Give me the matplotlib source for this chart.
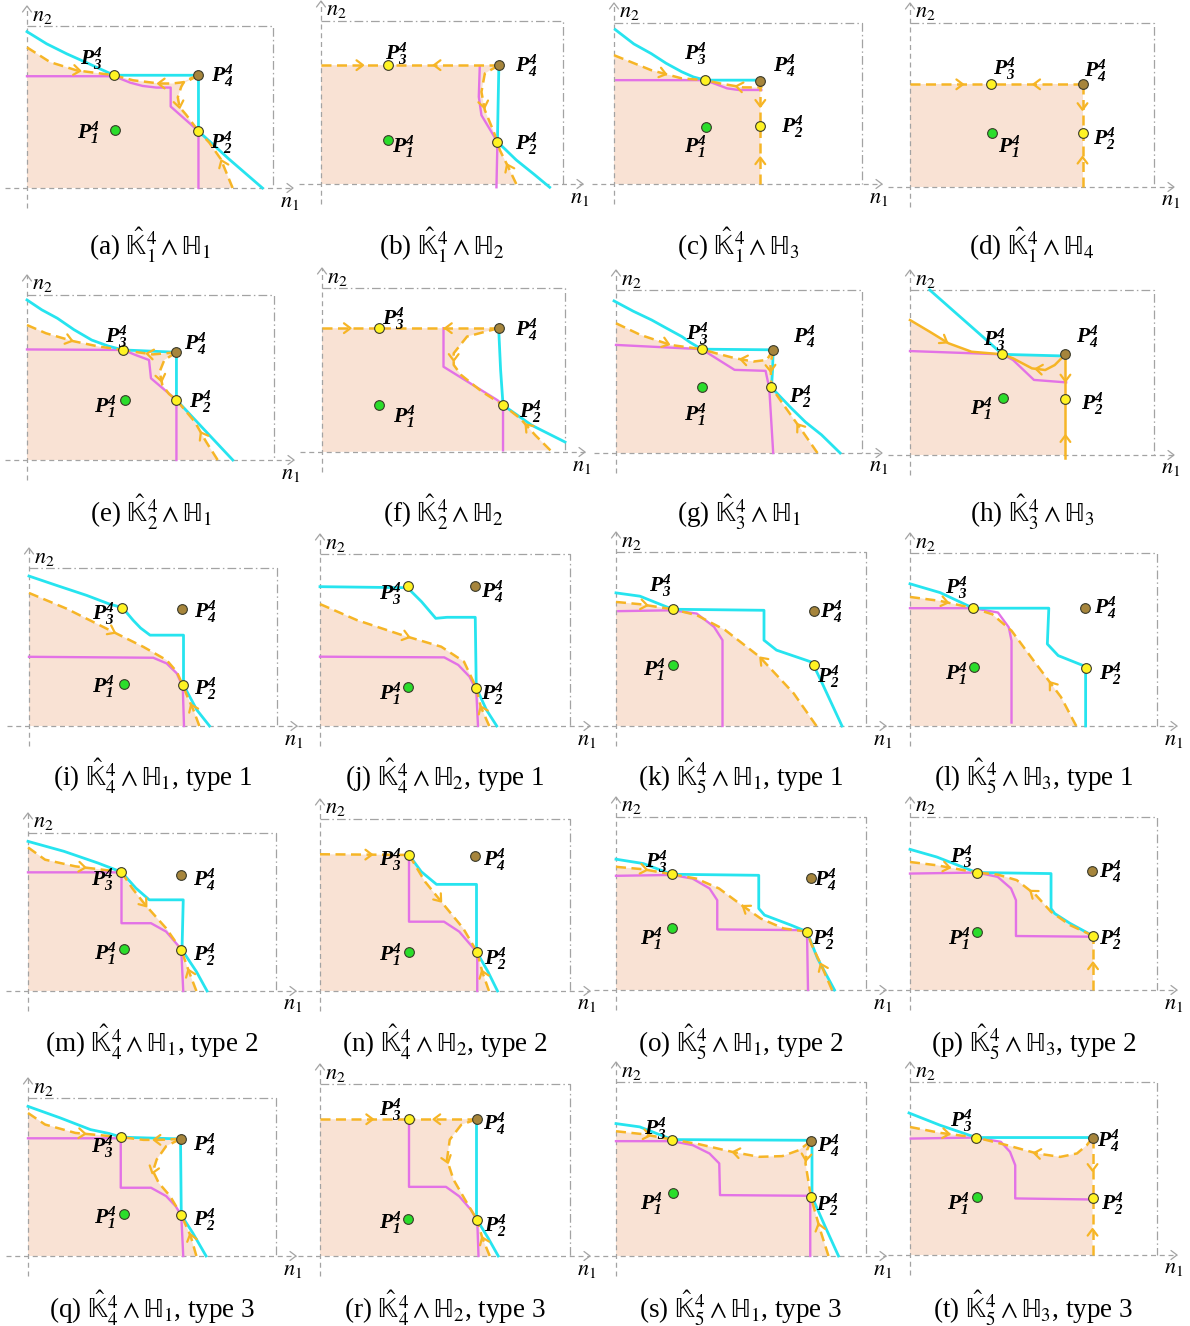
import numpy as np
import matplotlib
matplotlib.use('Agg')
import matplotlib.pyplot as plt

plt.rcParams['font.family'] = ['Liberation Serif', 'DejaVu Serif']
plt.rcParams['mathtext.fontset'] = 'custom'
plt.rcParams['mathtext.rm'] = 'Liberation Serif'
plt.rcParams['mathtext.it'] = 'Liberation Serif:italic'
plt.rcParams['mathtext.bf'] = 'Liberation Serif:italic:bold'

# ---------------- captions ----------------
CAP_LETTERS = list('abcdefghijklmnopqrst')
CAP_K = [1, 1, 1, 1, 2, 2, 3, 3, 4, 4, 5, 5, 4, 4, 5, 5, 4, 4, 5, 5]
CAP_H = [1, 2, 3, 4, 1, 2, 1, 3, 1, 2, 1, 3, 1, 2, 1, 3, 1, 2, 1, 3]
CAP_TYPE = [None] * 8 + [1] * 4 + [2] * 4 + [3] * 4

# ---------------- panel data (box coordinates, percent of box) ----------------
# points order: P1, P2, P3, P4 ; labels same order
a_pts = [(35.7, 35.7), (69.7, 35.1), (35.4, 69.6), (69.7, 69.6)]
a_lab = [(24.9, 34.1), (78.8, 28), (26.3, 79.7), (79.5, 69.6)]
a_cyan = [(0, 96.5), (8, 89), (16.2, 82.8), (24, 77.5), (29.6, 73.6), (35.4, 69.6), (69.7, 69.6), (69.7, 35.1), (82, 18), (95.7, 0)]
a_mag = [(0, 69), (35.4, 69), (42, 65), (47, 63), (52.6, 62), (58.4, 62), (58.4, 50.3), (69.7, 35.1), (69.7, 0)]
a_flows = [[(0, 86.8), (9.4, 77.7), (20.2, 72.6), (35.4, 69.6)],
           [(69.7, 69.6), (64.7, 65.5), (59, 64.5), (53.9, 64.5), (43.1, 66.5), (35.4, 69.6)],
           [(69.7, 69.6), (64, 66), (62.7, 62.5), (61.3, 56), (62, 50), (64.7, 45.2), (69.7, 35.1)],
           [(83.6, 0), (78.8, 17.8), (74.1, 28), (69.7, 35.1)]]
a_arr = [0.6, 0.45, 0.55, 0.4]

b_pts = [(27.5, 26.9), (72.9, 25.9), (27.8, 72.9), (73.5, 72.9)]
b_lab = [(34, 22.9), (84.9, 24.9), (31.2, 80), (84.9, 72.9)]
b_cyan = [(73.5, 72.9), (73.2, 50), (72.9, 25.9), (80.7, 14.7), (88, 6), (94.5, -2)]
b_mag = [(65.6, 71.8), (65.2, 53.5), (66.3, 42.2), (70.4, 32), (72.9, 25.9), (72.5, -2)]
b_flows = [[(0, 72.9), (27.8, 72.9)],
           [(73.5, 72.9), (27.8, 72.9)],
           [(73.5, 72.9), (67.7, 67.8), (66.3, 56.5), (67.7, 45.3), (71.1, 33.1), (72.9, 25.9)],
           [(80.7, 0), (77.3, 10.6), (73.9, 20.8), (72.9, 25.9)]]
b_arr = [0.58, 0.56, 0.55, 0.4]

c_pts = [(37.1, 35.7), (59, 36.3), (36.8, 64.5), (59, 63.7)]
c_lab = [(32.6, 23.3), (71.7, 35.7), (32.6, 81), (68.6, 73.8)]
c_cyan = [(0.5, 95.9), (8, 87), (15, 81), (21, 75), (27.3, 69.7), (32, 66.5), (36.8, 64.5), (57.9, 64.5)]
c_mag = [(0.9, 64.5), (36.8, 64.5), (42, 61.5), (45.6, 59.4), (50.2, 58.4), (59.4, 58.4)]
c_flows = [[(0, 80), (15, 70.7), (27.3, 65.6), (36.8, 64.5)],
           [(59, 63.7), (59.4, 60), (52, 60), (42.6, 62.5), (36.8, 64.5)],
           [(59, 63.7), (59, 36.3)],
           [(59, 0), (59, 36.3)]]
c_arr = [0.55, 0.45, 0.5, 0.4]

d_pts = [(33.8, 32.9), (70.7, 32.9), (33, 62.6), (70.7, 62.6)]
d_lab = [(40.8, 24.4), (79.8, 29.5), (38.5, 72), (75.9, 71)]
d_cyan = []
d_mag = []
d_flows = [[(0, 62.6), (33, 62.6)],
           [(70.7, 62.6), (33, 62.6)],
           [(70.7, 62.6), (70.7, 32.9)],
           [(70.7, 0), (70.7, 32.9)]]
d_arr = [0.62, 0.5, 0.46, 0.5]

e_pts = [(39.8, 36.4), (60.5, 36.4), (39, 66.7), (60.5, 65.3)]
e_lab = [(31.6, 32.3), (70.2, 35.4), (36.3, 74.7), (67.9, 70.7)]
e_cyan = [(0, 97), (6, 91), (12.3, 85.9), (19, 79), (26.2, 72.7), (33, 69), (39, 66.7), (60.5, 65.3), (60.5, 36.4), (72, 18), (83.3, 0)]
e_mag = [(0, 67), (39, 66.7), (44, 63.6), (49.4, 60.6), (50.2, 49.5), (60.5, 36.4), (60.5, 0)]
e_flows = [[(0, 81.8), (7.7, 76.8), (18.5, 72.1), (29.3, 68.7), (39, 66.7)],
           [(60.5, 65.3), (55, 64.5), (50.9, 64), (44.8, 65.3), (39, 66.7)],
           [(60.5, 65.3), (55.6, 60.6), (53.7, 53.5), (54.8, 45.5), (57.5, 40), (60.5, 36.4)],
           [(77.2, 0), (72.5, 11.1), (67.9, 23.2), (60.5, 36.4)]]
e_arr = [0.45, 0.5, 0.55, 0.4]

f_pts = [(23.3, 28.6), (74.5, 28.6), (23.3, 75.5), (72.7, 75.5)]
f_lab = [(33.9, 21.4), (85.5, 24.5), (29.4, 81.6), (83.9, 74.5)]
f_cyan = [(72.7, 75.5), (73.5, 50), (74.5, 28.6), (86.3, 16.3), (100, 6.1)]
f_mag = [(50, 75.5), (50, 52), (72.2, 31.6), (74.5, 28.6), (74.5, 1)]
f_flows = [[(0, 75.5), (23.3, 75.5)],
           [(72.7, 75.5), (23.3, 75.5)],
           [(72.7, 75.5), (59.7, 70.4), (54.2, 60.2), (54.2, 53.1), (57.3, 46.9), (65.9, 36.7), (74.5, 28.6)],
           [(94, 1), (87.8, 10.2), (81.6, 20.4), (74.5, 28.6)]]
f_arr = [0.45, 0.42, 0.45, 0.5]

g_pts = [(34.8, 40.2), (63.2, 40.2), (34.8, 63.7), (63.9, 63.3)]
g_lab = [(32.2, 23.5), (75, 34.7), (32.9, 73.5), (76.6, 71.4)]
g_cyan = [(-0.8, 93.3), (7, 87), (14.5, 81.6), (20, 77), (26.8, 71.4), (30, 68), (34.8, 63.7), (63.9, 63.3), (63.6, 50), (63.2, 40.2), (71.2, 27.6), (77, 19), (83.5, 11.2), (91.1, 0)]
g_mag = [(0, 66.3), (34.8, 63.7), (40.6, 58.2), (48.2, 51), (60.8, 50.4), (62.3, 39.8), (63.9, 0)]
g_flows = [[(0, 79.6), (10, 72.4), (22.2, 66.3), (34.8, 63.7)],
           [(63.9, 63.3), (61.3, 57.1), (55.9, 56.1), (48.2, 58.2), (40.6, 61.2), (34.8, 63.7)],
           [(63.9, 63.3), (62.8, 54), (63.2, 40.2)],
           [(81.9, 0), (75.8, 13.3), (68.1, 29.6), (63.2, 40.2)]]
g_arr = [0.6, 0.45, 0.5, 0.4]

h_pts = [(38.2, 34.7), (63.7, 33.7), (37.9, 61), (63.7, 61)]
h_lab = [(29, 28.3), (74.8, 31.3), (34.5, 69.7), (72.5, 71.7)]
h_cyan = [(8.1, 100), (18.9, 85.9), (29.8, 71.7), (37.9, 61), (63.7, 60)]
h_mag = [(0, 63), (37.9, 61), (42.2, 57.6), (50.8, 45.5), (64, 44)]
h_flows = [[(0, 81.8), (8.1, 74.7), (15.8, 67.7), (25.2, 62.6), (37.9, 61)],
           [(63.7, 61), (59.3, 54.5), (55.4, 51.5), (50, 52.5), (42.2, 58.6), (37.9, 61)],
           [(63.7, 61), (63.7, 33.7)],
           [(63.7, -1.6), (63.7, 33.7)]]
h_arr = [0.4, 0.45, 0.53, 0.33]

i_pts = [(38.3, 26.3), (62, 25.9), (37.7, 74.9), (61.6, 73.9)]
i_lab = [(29.9, 24.8), (71, 23.8), (29.9, 71.2), (71, 72.2)]
i_cyan = [(0, 94.9), (11.1, 89), (23.2, 82.7), (32.6, 77.1), (37.7, 74.9), (42, 66.9), (45, 62), (48.8, 57.5), (62.3, 57.5), (62.3, 25.9), (67.7, 10.1), (72.8, 0)]
i_mag = [(0, 43.8), (50.1, 43.2), (55.5, 39.6), (59.6, 33.3), (62, 24.8), (62.5, 0)]
i_flows = [[(0, 84.2), (15.1, 74.3), (32.6, 60.6), (46.1, 50.1), (55.5, 41.7), (59.6, 34.3), (62, 25.9)],
           [(68.7, 0), (66.3, 10.1), (63.6, 19.6), (62, 25.9)]]
i_arr = [0.5, 0.45]

j_pts = [(35, 22.9), (62.5, 22.3), (35, 81.4), (62.1, 81.4)]
j_lab = [(28.2, 19), (68.8, 19), (28.2, 77.1), (68.8, 78.1)]
j_cyan = [(0, 81), (35, 80.4), (40.6, 72.3), (46.3, 62.6), (50.8, 63.2), (62.1, 63.2), (62.5, 22.3), (66.6, 9.3), (70.7, 0)]
j_mag = [(0, 40.3), (49.7, 39.9), (55.3, 35.5), (59.8, 28.7), (62.5, 20.9), (63.2, 0)]
j_flows = [[(0, 70.9), (14.7, 61.6), (32.7, 52.9), (48.5, 46.1), (57.6, 37.4), (62.5, 22.3)],
           [(67.7, 0), (64.3, 11.2), (62.5, 22.3)]]
j_arr = [0.5, 0.45]

k_pts = [(22.8, 35), (79, 35), (22.6, 67.1), (79, 66)]
k_lab = [(15.3, 32.1), (84.7, 28.3), (17.5, 80.9), (85.9, 65.6)]
k_cyan = [(0, 76.5), (9.6, 74.6), (22.6, 67.1), (59.2, 66.5), (59.2, 49.3), (64.2, 43.6), (77.9, 36.9), (79, 35), (82.5, 24.5), (90.4, 0)]
k_mag = [(0.9, 66), (22.6, 66.5), (32.3, 64.6), (39.2, 57), (42.6, 49.3), (42.6, 0)]
k_flows = [[(0, 71.3), (9.6, 70), (22.6, 67.1)],
           [(80.2, 0), (71.1, 18.7), (57.4, 39.8), (43.7, 55.1), (32.3, 63.7), (22.6, 67.1)]]
k_arr = [0.5, 0.45]

l_pts = [(26, 34), (71.1, 33.7), (25.6, 68.1), (70.7, 68.1)]
l_lab = [(18.9, 30.2), (81.1, 30.2), (18.9, 79.9), (78.9, 68.5)]
l_cyan = [(0, 82.2), (12.2, 77.1), (25.6, 68.1), (56.2, 68.1), (55.6, 47.4), (60, 40.7), (70, 35), (71.1, 33.7), (71.1, 0)]
l_mag = [(0, 68.1), (25.6, 68.1), (35.6, 65.6), (40, 57), (41.1, 49.3), (41.1, 2)]
l_flows = [[(0, 74.6), (12.2, 72.3), (25.6, 68.1)],
           [(67.3, 0), (61.1, 16.8), (50, 37.9), (41.1, 55.1), (33.3, 64.6), (25.6, 68.1)]]
l_arr = [0.55, 0.3]

m_pts = [(38.6, 26.6), (61.8, 26), (37.7, 75.3), (61.5, 73.6)]
m_lab = [(31.3, 23.9), (71, 22.8), (29.8, 70.4), (71, 70.4)]
m_cyan = [(0, 94.7), (14.5, 88.4), (28.2, 81), (37.7, 75.3), (43.5, 65.1), (48.9, 57.7), (62.6, 57.7), (62.1, 26), (67.9, 12.3), (72.2, 0)]
m_mag = [(0, 75.1), (37.7, 75.1), (37.7, 42.9), (49.6, 42.9), (55.7, 37.6), (60.3, 29.2), (61.8, 26), (62.6, 0)]
m_flows = [[(0, 90.9), (6.9, 83.1), (19.1, 78.9), (37.7, 75.3)],
           [(37.7, 75.3), (42, 65.1), (47.3, 54.5), (55.7, 39.7), (61.8, 26)],
           [(67.9, 0), (64.9, 12.3), (61.8, 26)]]
m_arr = [0.6, 0.4, 0.45]

n_pts = [(35.6, 22.9), (62.9, 22.5), (35.6, 79.1), (61.8, 78.7)]
n_lab = [(28.2, 20.9), (70.2, 19), (28.2, 76.2), (69.5, 76.2)]
n_cyan = [(35.6, 79.1), (40.5, 69.4), (46.6, 62), (62.6, 62), (62.6, 22.9), (67.2, 11.2), (71, 0)]
n_mag = [(35.6, 77.1), (35.6, 40.3), (49.6, 40.3), (55.7, 34.5), (60.3, 26.7), (62.9, 22.5), (62.9, 0)]
n_flows = [[(0, 79.5), (35.6, 79.1)],
           [(35.6, 79.1), (42, 63.6), (49.6, 50), (57.3, 36.4), (62.9, 22.5)],
           [(67.6, 0), (64.9, 11.2), (62.9, 22.5)]]
n_arr = [0.55, 0.45, 0.45]

o_pts = [(22.3, 36), (76.4, 33.7), (22.3, 66.9), (77.9, 65)]
o_lab = [(13.9, 29.8), (82.9, 29.8), (16.2, 74), (83.6, 63.5)]
o_cyan = [(0, 75.6), (10.9, 73.1), (22.3, 66.9), (57.1, 66.3), (57.1, 47.1), (59.4, 43.3), (70, 37.5), (76.4, 33.7), (80.6, 18.3), (87.4, 0)]
o_mag = [(0, 66), (22.3, 66.5), (30.6, 64.4), (37.4, 58.7), (40.5, 51.9), (40.5, 35), (76.1, 34.6), (76.4, 33.7), (76.8, 0)]
o_flows = [[(0, 71.2), (10.9, 69.8), (22.3, 66.9)],
           [(76.4, 33.7), (67, 35.6), (57.9, 41.3), (50.3, 49), (41.2, 58.7), (32.1, 64.4), (22.3, 66.9)],
           [(86.4, 0), (82.1, 14.4), (78.3, 26), (76.4, 33.7)]]
o_arr = [0.5, 0.45, 0.4]

p_pts = [(27, 33.7), (74.1, 31.3), (27, 67.9), (73.8, 68.7)]
p_lab = [(20.1, 29.8), (81, 29.8), (20.8, 76.9), (81, 68.3)]
p_cyan = [(0, 81.3), (10.8, 76.9), (27, 67.9), (57.1, 67.3), (57.1, 47.1), (58.6, 44.2), (64.8, 38.5), (74.1, 31.3)]
p_mag = [(0, 67.3), (27, 67.9), (35.5, 65.4), (40.9, 58.7), (42.9, 51.9), (42.9, 31.2), (73.8, 30.8)]
p_flows = [[(0, 74), (10.8, 72.1), (27, 67.9)],
           [(74.1, 31.3), (64.8, 37.5), (57.1, 45.2), (51, 54.8), (43.2, 63.5), (35.5, 66.7), (27, 67.9)],
           [(74.1, 0), (74.1, 31.3)]]
p_arr = [0.55, 0.55, 0.45]

q_pts = [(38.6, 26.7), (61.8, 25.9), (37.7, 75.2), (61.5, 74.1)]
q_lab = [(31.3, 24.2), (71, 23.2), (29.8, 69.5), (71, 70.5)]
q_cyan = [(0, 94.7), (13, 87.4), (25.2, 80), (32.8, 77.5), (37.7, 75.2), (61.5, 74.1), (61.8, 25.9), (66.4, 14.7), (71.8, 0)]
q_mag = [(0, 74.5), (37.4, 74.5), (37.4, 43.2), (49.6, 43.2), (55.7, 37.9), (59.5, 31.6), (61.8, 25.9), (62.6, 0)]
q_flows = [[(0, 90.5), (6.9, 83.2), (19.1, 77.9), (37.7, 75.2)],
           [(61.5, 74.1), (52.7, 73.5), (46.6, 73.5), (37.7, 75.2)],
           [(61.5, 74.1), (55.7, 69.5), (51.9, 61.1), (50.4, 53.7), (52.7, 46.3), (57.3, 37.9), (61.8, 25.9)],
           [(67.9, 0), (65.6, 12.6), (61.8, 25.9)]]
q_arr = [0.6, 0.4, 0.45, 0.45]

r_pts = [(35.1, 21.6), (62.9, 20.8), (35.6, 79.5), (62.6, 79.5)]
r_lab = [(28.2, 19.3), (70.2, 17.4), (28.2, 85.1), (69.5, 77.2)]
r_cyan = [(62.6, 79.5), (62.6, 22.5), (62.9, 20.8), (67.2, 10.6), (71.3, 0)]
r_mag = [(35.6, 79.5), (35.6, 40.2), (50.4, 40.2), (55.7, 34.7), (60.3, 27), (62.9, 20.8), (63.4, 0)]
r_flows = [[(0, 79.5), (35.6, 79.5)],
           [(62.6, 79.5), (35.6, 79.5)],
           [(62.6, 79.5), (56.5, 76.3), (51.9, 67.6), (50.8, 56), (53.4, 44.4), (58, 32.8), (62.9, 20.8)],
           [(67.9, 0), (64.9, 10.6), (62.9, 20.8)]]
r_arr = [0.56, 0.59, 0.45, 0.45]

s_pts = [(22.8, 36.3), (78, 33.7), (22.5, 66.9), (78, 66)]
s_lab = [(14.2, 30.2), (84.4, 29.3), (15.5, 73.2), (85, 63.7)]
s_cyan = [(0, 76.1), (9.5, 74.2), (22.5, 66.9), (78.4, 66.5), (78.4, 34), (83.7, 16.8), (89, 0)]
s_mag = [(0, 66), (22.5, 66), (30.7, 63.7), (37.4, 58.9), (41.3, 53.2), (41.6, 35), (77.1, 34.6), (77.7, 30.2), (77.7, 0)]
s_flows = [[(0, 71.7), (10.9, 70), (22.5, 66.9)],
           [(78, 66), (73.1, 60.8), (66.5, 57.4), (57.2, 57), (46.6, 59.8), (33.4, 64.2), (22.5, 66.9)],
           [(78, 66), (76.4, 60.8), (75.8, 53.2), (77.1, 41.7), (78, 33.7)],
           [(85, 0), (81.7, 14.9), (78, 33.7)]]
s_arr = [0.55, 0.55, 0.3, 0.5]

t_pts = [(27, 33.7), (73.9, 33.1), (26.8, 67.9), (73.9, 67.9)]
t_lab = [(19.6, 29.8), (81.8, 29.8), (20.9, 77.9), (80.4, 66.3)]
t_cyan = [(-0.4, 82.1), (12.2, 75), (26.8, 67.9), (73.9, 67.9)]
t_mag = [(0.3, 67.3), (26.8, 67.9), (36.8, 65.4), (40.5, 59.6), (42.6, 51.9), (42.6, 32.7), (73, 32.1)]
t_flows = [[(0, 74), (12.2, 70.6), (26.8, 67.9)],
           [(73.9, 67.9), (71.6, 63.5), (67.6, 58.7), (60.8, 56.7), (51.4, 58.7), (39.2, 63.5), (26.8, 67.9)],
           [(73.9, 67.9), (73.9, 33.1)],
           [(73.9, 0), (73.9, 33.1)]]
t_arr = [0.55, 0.5, 0.5, 0.4]

# basins (stable-manifold boundary, from left edge to n1 axis)
def _r(c):
    return c[::-1]

a_basin = a_flows[0] + _r(a_flows[1]) + a_flows[2] + _r(a_flows[3])
b_basin = b_flows[0] + _r(b_flows[1]) + b_flows[2] + _r(b_flows[3])
c_basin = c_flows[0] + _r(c_flows[1]) + c_flows[2] + _r(c_flows[3])
d_basin = d_flows[0] + _r(d_flows[1]) + d_flows[2] + _r(d_flows[3])
e_basin = e_flows[0] + _r(e_flows[1]) + e_flows[2] + _r(e_flows[3])
f_basin = f_flows[0] + _r(f_flows[1]) + f_flows[2] + _r(f_flows[3])
g_basin = g_flows[0] + _r(g_flows[1]) + g_flows[2] + _r(g_flows[3])
h_basin = h_flows[0] + [(63.7, 60.5), (63.7, 0)]
i_basin = i_flows[0] + _r(i_flows[1])
j_basin = j_flows[0] + _r(j_flows[1])
k_basin = k_flows[0] + _r(k_flows[1])
l_basin = l_flows[0] + _r(l_flows[1])
m_basin = m_flows[0] + m_flows[1] + _r(m_flows[2])
n_basin = n_flows[0] + n_flows[1] + _r(n_flows[2])
o_basin = o_flows[0] + _r(o_flows[1]) + _r(o_flows[2])
p_basin = p_flows[0] + _r(p_flows[1]) + _r(p_flows[2])
q_basin = q_flows[0] + _r(q_flows[1]) + q_flows[2] + _r(q_flows[3])
r_basin = r_flows[0] + _r(r_flows[1]) + r_flows[2] + _r(r_flows[3])
s_basin = s_flows[0] + _r(s_flows[1]) + s_flows[2] + _r(s_flows[3])
t_basin = t_flows[0] + _r(t_flows[1]) + t_flows[2] + _r(t_flows[3])

SOLID_FLOW = ['h']

# ---------------- layout (pixels: y-axis x, x-axis y, box right, box top) ----------------
W, H = 1190, 1326
BOXES = {
    'a': (27, 188, 273, 26), 'b': (321, 184, 563, 21), 'c': (614, 184, 862, 23), 'd': (910, 187, 1154, 23),
    'e': (27, 460, 274, 295), 'f': (322, 452, 565, 288), 'g': (616, 453, 862, 290), 'h': (910, 455, 1154, 290),
    'i': (29, 726, 277, 568), 'j': (320, 726, 570, 554), 'k': (616, 726, 866, 552), 'l': (910, 726, 1157, 553),
    'm': (28, 991, 276, 833), 'n': (320, 991, 570, 819), 'o': (616, 990, 866, 817), 'p': (910, 990, 1157, 817),
    'q': (28, 1256, 276, 1098), 'r': (320, 1256, 570, 1084), 's': (616, 1256, 866, 1082), 't': (910, 1255, 1157, 1082),
}
CAP_ROW_Y = [245, 512, 776, 1042, 1308]

C_FILL = '#F9E2D4'
C_CYAN = '#26E4EF'
C_MAG = '#E372E6'
C_FLOW = '#F6B526'
C_GRAY = '#A3A3A3'
C_YEL = '#FFF323'
C_GRN = '#2BDD2B'
C_BRN = '#A6853C'

G = globals()
PANELS = []
for L in CAP_LETTERS:
    PANELS.append(dict(letter=L, pts=G[L + '_pts'], lab=G[L + '_lab'], cyan=G[L + '_cyan'],
                       mag=G[L + '_mag'], flows=G[L + '_flows'], arr=G[L + '_arr'],
                       basin=G[L + '_basin'], box=BOXES[L]))

fig = plt.figure(figsize=(W / 100, H / 100), dpi=100)


def to_px(ax, pts):
    return ax.transData.transform(np.asarray(pts, float))


def to_data(ax, px):
    return ax.transData.inverted().transform(np.asarray(px, float))


def chevron(ax, tip, d, color, size, lw, z):
    d = np.asarray(d, float)
    d = d / np.hypot(d[0], d[1])
    nrm = np.array([-d[1], d[0]])
    back = tip - size * d
    p = np.array([back + 0.75 * size * nrm, tip, back - 0.75 * size * nrm])
    q = to_data(ax, p)
    ax.plot(q[:, 0], q[:, 1], color=color, lw=lw, solid_capstyle='round',
            solid_joinstyle='round', clip_on=False, zorder=z)


def flow_arrow(ax, curve, t, color):
    px = to_px(ax, curve)
    keep = [0] + [i for i in range(1, len(px)) if np.hypot(*(px[i] - px[i - 1])) > 1e-6]
    px = px[keep]
    seg = np.diff(px, axis=0)
    Ls = np.hypot(seg[:, 0], seg[:, 1])
    cum = np.concatenate([[0], np.cumsum(Ls)])
    s = t * cum[-1]
    i = int(np.clip(np.searchsorted(cum, s, side='right') - 1, 0, len(seg) - 1))
    f = (s - cum[i]) / Ls[i]
    p = px[i] + f * seg[i]
    chevron(ax, p + 3 * seg[i] / Ls[i], seg[i], color, 6.5, 1.6, 6)


for idx, P in enumerate(PANELS):
    ox, oy, rx, ty = P['box']
    ax = fig.add_axes([ox / W, 1 - oy / H, (rx - ox) / W, (oy - ty) / H])
    ax.set_xlim(0, 100)
    ax.set_ylim(0, 100)
    ax.axis('off')
    sx = (rx - ox) / 100.0
    sy = (oy - ty) / 100.0

    # basin fill
    poly = np.array([(0, 0)] + P['basin'], float)
    ax.fill(poly[:, 0], poly[:, 1], color=C_FILL, lw=0, zorder=1, clip_on=False)

    # dash-dot box
    ax.plot([0, 100, 100], [100, 100, 0], ls=(0, (7, 2.5, 1.2, 2.5)), color=C_GRAY,
            lw=0.9, clip_on=False, zorder=0.5)
    # axes
    xe = 100 + 20 / sx
    ye = 100 + 20 / sy
    ax.plot([-22 / sx, xe], [0, 0], ls=(0, (4, 3)), color=C_GRAY, lw=0.9, clip_on=False, zorder=2)
    ax.plot([0, 0], [-20 / sy, ye], ls=(0, (4, 3)), color=C_GRAY, lw=0.9, clip_on=False, zorder=2)
    chevron(ax, to_px(ax, [(xe, 0)])[0], (1, 0), C_GRAY, 6, 0.9, 2)
    chevron(ax, to_px(ax, [(0, ye)])[0], (0, 1), C_GRAY, 6, 0.9, 2)
    ax.text(5 / sx, 100 + 10 / sy, r'$n_2$', ha='left', va='center', fontsize=16,
            math_fontfamily='stix', clip_on=False)
    ax.text(100 + 17 / sx, -14 / sy, r'$n_1$', ha='center', va='center', fontsize=16,
            math_fontfamily='stix', clip_on=False)

    # curves
    if P['mag']:
        m = np.array(P['mag'], float)
        ax.plot(m[:, 0], m[:, 1], color=C_MAG, lw=1.7, clip_on=False, zorder=3,
                solid_joinstyle='round')
    if P['cyan']:
        c = np.array(P['cyan'], float)
        ax.plot(c[:, 0], c[:, 1], color=C_CYAN, lw=2.0, clip_on=False, zorder=3,
                solid_joinstyle='round')
    solid = P['letter'] in SOLID_FLOW
    for fl, t in zip(P['flows'], P['arr']):
        f = np.array(fl, float)
        ax.plot(f[:, 0], f[:, 1], color=C_FLOW, lw=1.8, clip_on=False, zorder=4,
                ls='-' if solid else (0, (4, 2.2)), solid_joinstyle='round')
        flow_arrow(ax, fl, t, C_FLOW)

    # equilibrium points
    cols = [C_GRN, C_YEL, C_YEL, C_BRN]
    for (x, y), col in zip(P['pts'], cols):
        ax.plot([x], [y], 'o', ms=7, mfc=col, mec='#3a3a2a', mew=0.8, clip_on=False, zorder=6)
    for k, (x, y) in enumerate(P['lab']):
        ax.text(x, y, r'$\mathbf{P_%d^4}$' % (k + 1), ha='center', va='center',
                fontsize=15.5, clip_on=False, zorder=7)

    # caption
    cap = (r'(%s) $\hat{\mathrm{\mathbb{K}}}_%d^4\wedge\mathrm{\mathbb{H}}_%d$'
           % (P['letter'], CAP_K[idx], CAP_H[idx]))
    if CAP_TYPE[idx] is not None:
        cap += ', type %d' % CAP_TYPE[idx]
    fig.text((ox + rx) / 2 / W, 1 - CAP_ROW_Y[idx // 4] / H, cap, ha='center', va='center',
             fontsize=19.5, math_fontfamily='stix')

fig.savefig('out.png', dpi=100)
